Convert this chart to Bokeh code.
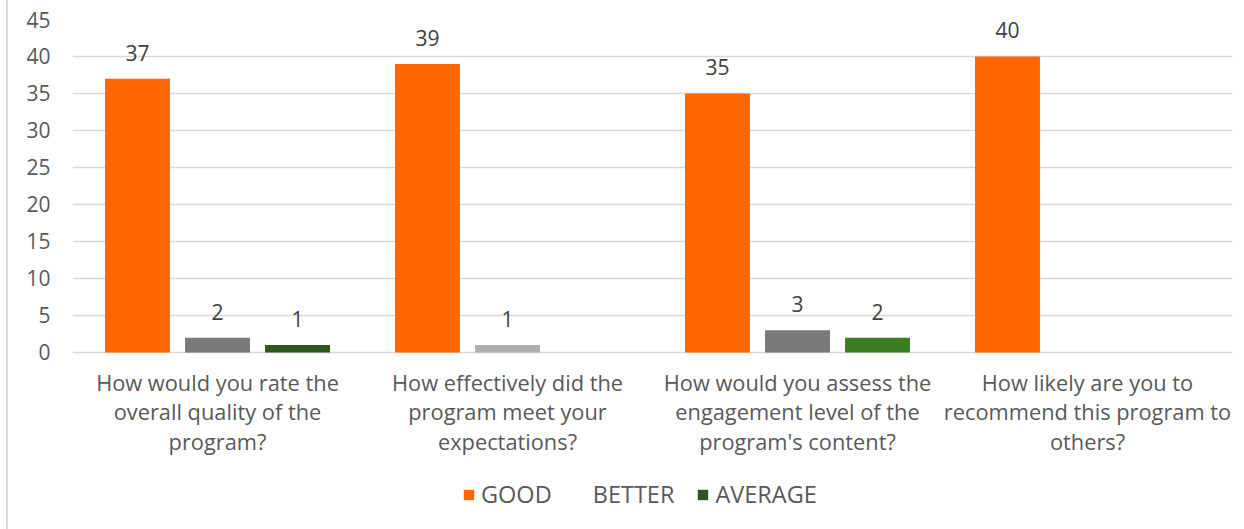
from bokeh.plotting import figure
from bokeh.models import ColumnDataSource, FactorRange, Legend, LegendItem, LabelSet
from bokeh.transform import dodge
from bokeh.core.properties import value
from bokeh.embed import file_html
from bokeh.resources import INLINE

categories = [
    "How would you rate the\noverall quality of the\nprogram?",
    "How effectively did the\nprogram meet your\nexpectations?",
    "How would you assess the\nengagement level of the\nprogram's content?",
    "How likely are you to\nrecommend this program to\nothers?",
]
good = [37, 39, 35, 40]
better = [2, 1, 3, 0]
average = [1, 0, 2, 0]
series_names = ["GOOD", "BETTER", "AVERAGE"]
y_ticks = [0, 5, 10, 15, 20, 25, 30, 35, 40, 45]

FONT = "Open Sans"
TXT = "#595959"
FS = "21px"

# room below the zero line for category labels and the legend (in value units)
Y_MIN = -23.92
LABEL_Y = -2.03

def lab(vals):
    return [str(v) if v else "" for v in vals]

src = ColumnDataSource(dict(
    cat=categories, good=good, better=better, average=average,
    good_l=lab(good), better_l=lab(better), average_l=lab(average),
    avg_color=["#2a5a19", "#2a5a19", "#3a7d22", "#3a7d22"],
    bet_color=["#6b6b6b", "#a6a6a6", "#6b6b6b", "#6b6b6b"],
    ly=[LABEL_Y] * len(categories),
))

p = figure(x_range=FactorRange(*categories), y_range=(Y_MIN, 45),
           frame_width=1160, frame_height=510,
           output_backend="svg", toolbar_location=None,
           min_border_left=64, min_border_right=4, min_border_top=19, min_border_bottom=0)
p.outline_line_color = None
p.background_fill_color = "white"
p.border_fill_color = "white"

step = 0.276
bw = 0.224
r_good = p.vbar(x=dodge("cat", -step, range=p.x_range), top="good", width=bw, source=src,
                fill_color="#ff6600", line_color=None)
r_bet = p.vbar(x=dodge("cat", 0, range=p.x_range), top="better", width=bw, source=src,
               fill_color="bet_color", fill_alpha=0.9, line_color=None)
r_bet_leg = p.vbar(x=dodge("cat", 0, range=p.x_range), top="better", width=bw, source=src,
                   fill_alpha=0, line_alpha=0)
r_avg = p.vbar(x=dodge("cat", step, range=p.x_range), top="average", width=bw, source=src,
               fill_color="avg_color", line_color=None)

for col, off in (("good", -step), ("better", 0), ("average", step)):
    ls = LabelSet(x=dodge("cat", off, range=p.x_range), y=col, text=col + "_l", source=src,
                  y_offset=26, text_align="center", text_baseline="middle",
                  text_font=value(FONT), text_font_size=FS, text_color="#404040")
    p.add_layout(ls)

# category labels under the zero line
p.text(x="cat", y="ly", text="cat", source=src, text_align="center", text_baseline="top",
       text_font=value(FONT), text_font_size="21.8px", text_color=TXT, text_line_height=1.02)

p.yaxis.ticker = y_ticks
p.yaxis.axis_line_color = None
p.yaxis.major_tick_line_color = None
p.yaxis.minor_tick_line_color = None
p.yaxis.major_label_text_font = FONT
p.yaxis.major_label_text_font_size = FS
p.yaxis.major_label_text_color = TXT
p.yaxis.major_label_standoff = 16

p.xaxis.visible = False

p.xgrid.grid_line_color = None
p.ygrid.grid_line_color = "#d9d9d9"
p.ygrid.grid_line_width = 1.5
p.x_range.range_padding = 0
p.x_range.group_padding = 0

legend = Legend(items=[
    LegendItem(label=series_names[0], renderers=[r_good]),
    LegendItem(label=series_names[1], renderers=[r_bet_leg]),
    LegendItem(label=series_names[2], renderers=[r_avg]),
], orientation="horizontal", location=(390, 19),
    label_text_font=FONT, label_text_font_size="23.5px", label_text_color=TXT,
    glyph_width=13, glyph_height=13, label_standoff=6, spacing=22,
    padding=0, margin=0,
    border_line_color=None, background_fill_alpha=0)
p.add_layout(legend, "center")

p.styles = {"margin-left": "6px", "border-left": "2px solid #d9d9d9"}

open("out.html", "w").write(file_html(p, INLINE))
